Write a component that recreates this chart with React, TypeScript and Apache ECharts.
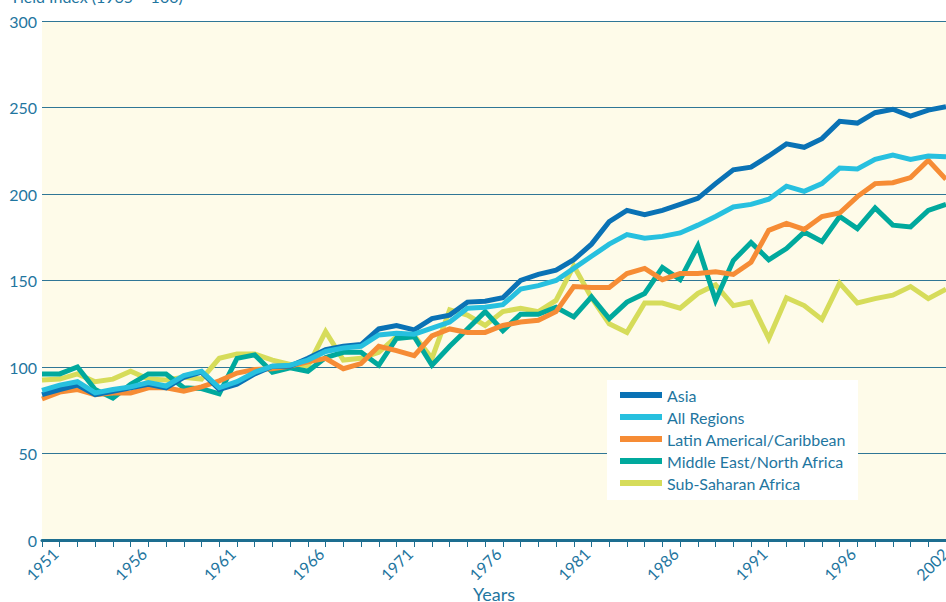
import React, { useEffect, useRef } from 'react';
import * as echarts from 'echarts';

const years = [
  '1951', '1952', '1953', '1954', '1955', '1956', '1957', '1958', '1959', '1960',
  '1961', '1962', '1963', '1964', '1965', '1966', '1967', '1968', '1969', '1970',
  '1971', '1972', '1973', '1974', '1975', '1976', '1977', '1978', '1979', '1980',
  '1981', '1982', '1983', '1984', '1985', '1986', '1987', '1988', '1989', '1990',
  '1991', '1992', '1993', '1994', '1995', '1996', '1997', '1998', '1999', '2000',
  '2001', '2002',
];

const asia = [
  84, 87, 89.5, 84, 86, 88, 90, 88, 94, 97,
  87, 90, 96, 100.5, 100.5, 105, 110, 112, 113, 122,
  124, 121.5, 128, 130, 137.5, 138, 140, 150, 153.5, 156,
  162, 171, 184, 190.5, 188, 190.5, 194, 197.5, 206, 214,
  215.5, 222, 229, 227, 232, 242, 241, 247, 249, 245,
  248.5, 250.5,
];

const allRegions = [
  86.5, 89.5, 91.5, 85, 87, 88.5, 91, 89, 95, 97.5,
  88, 91.5, 97, 100.5, 101, 104, 109, 111, 112, 118.5,
  119.5, 119, 122.5, 126, 134, 134.5, 136, 145, 147, 150,
  157, 164, 171, 176.5, 174.5, 175.5, 177.5, 182, 187, 192.5,
  194, 197, 204.5, 201.5, 206, 215, 214.5, 220, 222.5, 220,
  222, 221.5,
];

const latinAmerica = [
  81.5, 85.5, 87, 84, 85, 85, 88, 88, 86, 88.5,
  92, 96.5, 98.5, 99, 100.5, 103, 105, 99, 102, 112,
  109.5, 106.5, 118, 122, 120, 120, 124, 126, 127, 132,
  146.5, 146, 146, 154, 157, 150.5, 154, 154, 155, 153.5,
  160.5, 179, 183, 179.5, 187, 189, 198.5, 206, 206.5, 209.5,
  219.5, 208.5,
];

const middleEast = [
  96, 96, 100, 87, 82, 90, 96, 96, 88, 87.5,
  84.5, 105, 107, 97, 99.5, 97.5, 105.5, 108.5, 108.5, 101,
  116.5, 117.5, 101, 112, 122, 132, 121, 130.5, 130.5, 134.5,
  129, 140.5, 128, 137.5, 142.5, 157.5, 150.5, 170, 138.5, 161.5,
  172, 162, 168.5, 178, 172.5, 187, 180, 192, 182, 181,
  190.5, 194,
];

const subSaharan = [
  92.5, 93, 96, 91.5, 93, 97.5, 93, 92.5, 94, 93,
  105, 107.5, 107.5, 104, 101.5, 100.5, 120.5, 104, 105, 108.5,
  117.5, 118, 105, 133, 130, 124, 132, 134, 132, 138.5,
  158.5, 140, 125, 120, 137, 137, 134, 142.5, 147.5, 135.5,
  137.5, 116.5, 140, 135.5, 127.5, 148.5, 137, 139.5, 141.5, 146.5,
  139.5, 145,
];

const legendOrder = [
  'Asia',
  'All Regions',
  'Latin Americal/Caribbean',
  'Middle East/North Africa',
  'Sub-Saharan Africa',
];

const FONT = 'Lato, "Noto Sans", sans-serif';
const TEXT = '#1f76a0';
const AXIS = '#1d6e90';

export default function App() {
  const ref = useRef<HTMLDivElement>(null);

  useEffect(() => {
    document.body.style.margin = '0';
    const chart = echarts.init(ref.current as HTMLDivElement, null, { renderer: 'svg' });
    const mk = (name: string, data: number[], color: string) => ({
      name,
      type: 'line',
      data,
      symbol: 'none',
      color,
      lineStyle: { width: 5, color, join: 'miter', cap: 'butt' },
      z: 2,
    });
    chart.setOption({
      animation: false,
      backgroundColor: '#ffffff',
      grid: {
        left: 42,
        right: 0,
        top: 21,
        bottom: 62,
        show: true,
        backgroundColor: '#fefbe9',
        borderWidth: 0,
        containLabel: false,
        outerBoundsMode: 'none',
      },
      graphic: [
        {
          type: 'text',
          left: 10,
          top: -12,
          style: { text: 'Yield Index (1965 = 100)', fill: TEXT, font: `16px ${FONT}` },
        },
        {
          type: 'rect',
          z: 3,
          shape: { x: 607, y: 380, width: 251, height: 120 },
          style: { fill: '#ffffff' },
        },
      ],
      legend: {
        data: legendOrder,
        orient: 'vertical',
        left: 620,
        top: 387,
        padding: 0,
        itemGap: 6,
        itemWidth: 42,
        itemHeight: 6,
        icon: 'rect',
        z: 4,
        textStyle: { color: TEXT, fontSize: 16, fontFamily: FONT, lineHeight: 16 },
      },
      xAxis: {
        type: 'category',
        data: years,
        boundaryGap: false,
        name: 'Years',
        nameLocation: 'middle',
        nameGap: 54,
        nameMoveOverlap: false,
        nameTextStyle: { color: TEXT, fontSize: 18, fontFamily: FONT, verticalAlign: 'middle' },
        axisLine: { lineStyle: { color: AXIS, width: 3 } },
        axisTick: { show: true, interval: 0, length: 7, lineStyle: { color: AXIS, width: 1 } },
        axisLabel: {
          interval: (i: number) => (i % 5 === 0 && i !== 50) || i === 51,
          formatter: (v: string) => (v === '2002' ? '{e|2002}' : v),
          rich: {
            e: { padding: [0, 20, 20, 0], color: TEXT, fontSize: 16, fontFamily: FONT },
          },
          rotate: 45,
          align: 'center',
          verticalAlign: 'middle',
          margin: 24,
          color: TEXT,
          fontSize: 16,
          fontFamily: FONT,
          hideOverlap: false,
        },
        splitLine: { show: false },
      },
      yAxis: {
        type: 'value',
        min: 0,
        max: 300,
        interval: 50,
        axisLine: { show: false },
        axisTick: { show: false },
        axisLabel: { color: TEXT, fontSize: 16, fontFamily: FONT, margin: 5 },
        splitLine: { lineStyle: { color: '#2f7696', width: 1 } },
      },
      series: [
        mk('Sub-Saharan Africa', subSaharan, '#d6dc5a'),
        mk('Middle East/North Africa', middleEast, '#00a99d'),
        mk('Latin Americal/Caribbean', latinAmerica, '#f68c35'),
        mk('Asia', asia, '#0a72b5'),
        mk('All Regions', allRegions, '#27c0df'),
      ],
    });
    return () => chart.dispose();
  }, []);

  return <div ref={ref} style={{ width: 946, height: 602 }} />;
}
